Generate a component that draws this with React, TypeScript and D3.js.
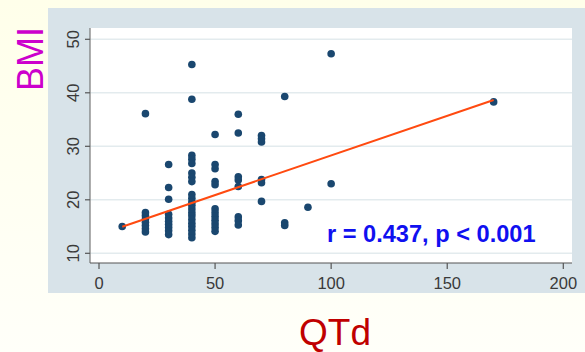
import React from "react";
import * as d3 from "d3";

// Data: QTd (x) vs BMI (y)
const qtd: number[] = [
  10,
  20, 20, 20, 20, 20, 20, 20, 20,
  30, 30, 30, 30, 30, 30, 30, 30, 30, 30,
  40, 40, 40, 40, 40, 40, 40, 40, 40, 40, 40, 40, 40, 40, 40, 40, 40, 40, 40, 40, 40,
  50, 50, 50, 50, 50, 50, 50, 50, 50, 50, 50, 50,
  60, 60, 60, 60, 60, 60, 60, 60,
  70, 70, 70, 70, 70, 70,
  80, 80, 80,
  90,
  100, 100,
  170,
];
const bmi: number[] = [
  15.0,
  36.1, 14.0, 14.6, 15.2, 15.8, 16.4, 17.0, 17.6,
  26.6, 22.3, 20.1, 17.3, 16.6, 16.0, 15.4, 14.8, 14.2, 13.5,
  45.3, 38.8, 28.3, 27.6, 26.8, 25.0, 24.2, 23.4, 21.0, 20.3, 19.6, 19.0, 18.3, 17.6, 17.0, 16.3, 15.6, 15.0, 14.3, 13.6, 12.9,
  32.2, 26.6, 25.8, 23.4, 22.8, 18.3, 17.6, 16.9, 16.2, 15.5, 14.8, 14.1,
  36.0, 32.5, 24.3, 23.7, 22.5, 16.8, 16.1, 15.3,
  32.0, 31.4, 30.8, 23.8, 23.2, 19.7,
  39.3, 15.7, 15.2,
  18.6,
  47.3, 23.0,
  38.3,
];
// Fitted regression line endpoints
const fitX: number[] = [10, 170];
const fitY: number[] = [14.97, 38.65];

const xTicks: number[] = [0, 50, 100, 150, 200];
const yTicks: number[] = [10, 20, 30, 40, 50];
const annotation = "r = 0.437, p < 0.001";
const xTitle = "QTd";
const yTitle = "BMI";

export default function App() {
  const W = 585;
  const H = 352;
  const plotL = 90, plotR = 572, plotT = 28, plotB = 263;
  const x = d3.scaleLinear().domain([0, 200]).range([99, 563.3]);
  const y = d3.scaleLinear().domain([10, 50]).range([253.3, 39.3]);
  const line = d3.line<[number, number]>().x((d) => x(d[0])).y((d) => y(d[1]));
  const fitPts: [number, number][] = fitX.map((v, i) => [v, fitY[i]]);
  const font = "'Liberation Sans', Arial, sans-serif";

  return (
    <svg
      width={W}
      height={H}
      style={{ position: "absolute", left: 0, top: 0, display: "block" }}
    >
      <defs>
        <linearGradient id="bg" x1="0" y1="0" x2="0" y2="1">
          <stop offset="0" stopColor="#FFFFEA" />
          <stop offset="1" stopColor="#FFFFF9" />
        </linearGradient>
      </defs>
      <rect x={0} y={0} width={W} height={H} fill="url(#bg)" />
      {/* graph region */}
      <rect x={48} y={8} width={W - 48} height={293 - 8} fill="#D8E3E9" />
      {/* plot region */}
      <rect x={plotL} y={plotT} width={plotR - plotL} height={plotB - plotT} fill="#FFFFFF" />
      {/* gridlines */}
      {yTicks.map((t) => (
        <line key={"g" + t} x1={plotL} x2={plotR} y1={y(t)} y2={y(t)} stroke="#E3EBEE" strokeWidth={1.6} />
      ))}
      {/* axes */}
      <line x1={plotL} x2={plotL} y1={plotT} y2={plotB} stroke="#777" strokeWidth={1.2} />
      <line x1={plotL} x2={plotR} y1={plotB} y2={plotB} stroke="#555" strokeWidth={1.2} />
      {yTicks.map((t) => (
        <g key={"y" + t}>
          <line x1={plotL - 5} x2={plotL} y1={y(t)} y2={y(t)} stroke="#555" strokeWidth={1.2} />
          <text
            transform={`translate(79,${y(t)}) rotate(-90)`}
            textAnchor="middle"
            fontFamily={font}
            fontSize={16.5}
            fill="#3a3a3a"
          >
            {t}
          </text>
        </g>
      ))}
      {xTicks.map((t) => (
        <g key={"x" + t}>
          <line x1={x(t)} x2={x(t)} y1={plotB} y2={plotB + 6} stroke="#555" strokeWidth={1.2} />
          <text x={x(t)} y={289} textAnchor="middle" fontFamily={font} fontSize={16.5} fill="#3a3a3a">
            {t}
          </text>
        </g>
      ))}
      {/* points */}
      {qtd.map((v, i) => (
        <circle key={"p" + i} cx={x(v)} cy={y(bmi[i])} r={3.8} fill="#1A476F" />
      ))}
      {/* fit line */}
      <path d={line(fitPts) || ""} fill="none" stroke="#FF4A10" strokeWidth={2} />
      {/* annotation */}
      <text x={327} y={241.5} fontFamily={font} fontWeight="bold" fontSize={23.6} fill="#1010F0">
        {annotation}
      </text>
      {/* titles */}
      <text
        transform="translate(43,59) rotate(-90)"
        textAnchor="middle"
        fontFamily={font}
        fontSize={36}
        fill="#CC00CC"
      >
        {yTitle}
      </text>
      <text x={335} y={345} textAnchor="middle" fontFamily={font} fontSize={37} fill="#C00000">
        {xTitle}
      </text>
    </svg>
  );
}
